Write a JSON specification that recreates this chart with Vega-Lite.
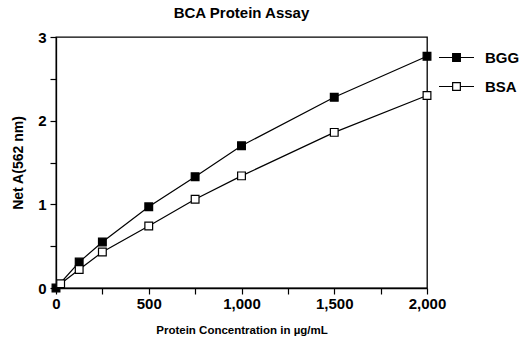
{
  "$schema": "https://vega.github.io/schema/vega-lite/v6.json",
  "autosize": "none",
  "width": 371,
  "height": 251,
  "padding": {"left": 56, "top": 37, "right": 93, "bottom": 49},
  "background": "white",
  "title": {"text": "BCA Protein Assay", "font": "Liberation Sans", "fontSize": 15, "fontWeight": "bold", "color": "black", "offset": 9, "anchor": "middle"},
  "config": {
    "view": {"stroke": "black", "strokeWidth": 1.3},
    "font": "Liberation Sans"
  },
  "data": {"values": [
    {"conc": 0, "abs": 0.0, "protein": "BGG"},
    {"conc": 125, "abs": 0.31, "protein": "BGG"},
    {"conc": 250, "abs": 0.55, "protein": "BGG"},
    {"conc": 500, "abs": 0.97, "protein": "BGG"},
    {"conc": 750, "abs": 1.33, "protein": "BGG"},
    {"conc": 1000, "abs": 1.70, "protein": "BGG"},
    {"conc": 1500, "abs": 2.28, "protein": "BGG"},
    {"conc": 2000, "abs": 2.77, "protein": "BGG"},
    {"conc": 25, "abs": 0.05, "protein": "BSA"},
    {"conc": 125, "abs": 0.22, "protein": "BSA"},
    {"conc": 250, "abs": 0.43, "protein": "BSA"},
    {"conc": 500, "abs": 0.74, "protein": "BSA"},
    {"conc": 750, "abs": 1.06, "protein": "BSA"},
    {"conc": 1000, "abs": 1.34, "protein": "BSA"},
    {"conc": 1500, "abs": 1.86, "protein": "BSA"},
    {"conc": 2000, "abs": 2.30, "protein": "BSA"}
  ]},
  "encoding": {
    "x": {"field": "conc", "type": "quantitative", "scale": {"domain": [0, 2000], "nice": false, "zero": false},
      "axis": {"values": [0, 250, 500, 750, 1000, 1250, 1500, 1750, 2000], "labelExpr": "datum.value % 500 == 0 ? format(datum.value, ',') : ''",
        "title": "Protein Concentration in µg/mL", "titleFont": "Liberation Sans", "titleFontSize": 11.5, "titleFontWeight": "bold", "titleColor": "black", "titlePadding": 13,
        "labelFont": "Liberation Sans", "labelFontSize": 15, "labelFontWeight": "bold", "labelColor": "black", "labelPadding": 2, "labelFlush": false, "labelOverlap": false,
        "grid": false, "domainColor": "black", "domainWidth": 1.3, "tickColor": "black", "tickWidth": 1.2, "tickSize": 6}},
    "y": {"field": "abs", "type": "quantitative", "scale": {"domain": [0, 3], "nice": false, "zero": false},
      "axis": {"values": [0, 0.5, 1, 1.5, 2, 2.5, 3], "labelExpr": "datum.value % 1 == 0 ? format(datum.value, 'd') : ''",
        "title": "Net A(562 nm)", "titleFont": "Liberation Sans", "titleFontSize": 14, "titleFontWeight": "bold", "titleColor": "black", "titlePadding": 12,
        "labelFont": "Liberation Sans", "labelFontSize": 15, "labelFontWeight": "bold", "labelColor": "black", "labelPadding": 4, "labelFlush": false, "labelOverlap": false,
        "grid": false, "domainColor": "black", "domainWidth": 1.3, "tickColor": "black", "tickWidth": 1.2, "tickSize": 6}}
  },
  "layer": [
    {
      "mark": {"type": "line", "color": "black", "strokeWidth": 1.2},
      "encoding": {"detail": {"field": "protein"}}
    },
    {
      "mark": {"type": "point", "shape": "square", "filled": true, "size": 60, "stroke": "black", "strokeWidth": 1.2, "opacity": 1},
      "encoding": {
        "fill": {"field": "protein", "type": "nominal", "scale": {"domain": ["BGG", "BSA"], "range": ["black", "white"]},
          "legend": {"title": null, "orient": "none", "legendX": 382, "legendY": 2,
            "symbolType": "M-1,0H-0.22M0.22,0H1M-0.22,-0.22H0.22V0.22H-0.22Z", "symbolSize": 1225, "symbolStrokeColor": "black", "symbolStrokeWidth": 1.2,
            "labelFont": "Liberation Sans", "labelFontSize": 15, "labelFontWeight": "bold", "labelColor": "black", "labelOffset": 10, "rowPadding": 2}}
      }
    }
  ]
}
